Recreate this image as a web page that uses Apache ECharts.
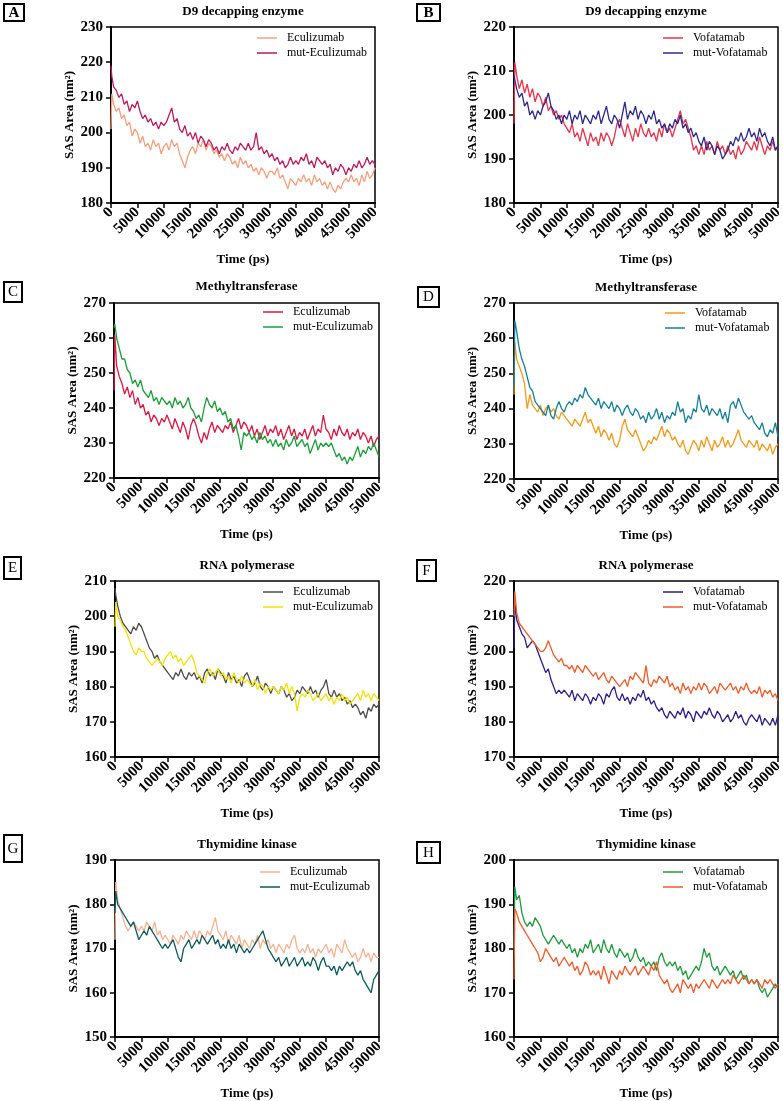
<!DOCTYPE html>
<html>
<head>
<meta charset="utf-8">
<script src="https://cdn.jsdelivr.net/npm/echarts@6/dist/echarts.min.js"></script>
<style>
html,body{margin:0;padding:0;background:#fff;}
#chart{width:783px;height:1101px;}
</style>
</head>
<body>
<div id="chart"></div>
<script>
// ---------------- DATA ----------------
const timePs = [0,150,500,1000,1500,2000,2500,3000,3500,4000,4500,5000,5500,6000,6500,7000,7500,8000,8500,9000,9500,10000,10500,11000,11500,12000,12500,13000,13500,14000,14500,15000,15500,16000,16500,17000,17500,18000,18500,19000,19500,20000,20500,21000,21500,22000,22500,23000,23500,24000,24500,25000,25500,26000,26500,27000,27500,28000,28500,29000,29500,30000,30500,31000,31500,32000,32500,33000,33500,34000,34500,35000,35500,36000,36500,37000,37500,38000,38500,39000,39500,40000,40500,41000,41500,42000,42500,43000,43500,44000,44500,45000,45500,46000,46500,47000,47500,48000,48500,49000,49500,50000];
const xTicks = [0,5000,10000,15000,20000,25000,30000,35000,40000,45000,50000];

const panelLetters = ['A','B','C','D','E','F','G','H'];
const panelTitles = ['D9 decapping enzyme','D9 decapping enzyme','Methyltransferase','Methyltransferase','RNA polymerase','RNA polymerase','Thymidine kinase','Thymidine kinase'];
const seriesNames = [['Eculizumab','mut-Eculizumab'],['Vofatamab','mut-Vofatamab'],['Eculizumab','mut-Eculizumab'],['Vofatamab','mut-Vofatamab'],['Eculizumab','mut-Eculizumab'],['Vofatamab','mut-Vofatamab'],['Eculizumab','mut-Eculizumab'],['Vofatamab','mut-Vofatamab']];
const yMin = [180,180,220,220,160,170,150,160];
const yMax = [230,220,270,270,210,220,190,200];

const A_ecu = [201,211, 208,206,207,204,205,202,203,199,201,200, 197,199,196,197,195,198,196,197,194,196, 197,195,198,196,197,194,192,190,193,195, 196,194,197,196,198,195,197,196,194,195, 193,194,192,194,193,191,192,190,193,191, 192,190,191,189,190,188,190,189,187,189, 189,188,190,187,188,186,184,187,186,185, 187,186,188,186,187,185,188,186,187,185, 186,184,186,184,183,185,184,186,187,186, 188,186,187,185,188,186,189,187,188,190];
const A_mut = [219,216, 213,212,210,211,208,209,206,208,207,209, 206,204,205,203,204,202,203,201,203,202, 203,205,207,203,204,201,200,202,199,200, 198,200,197,199,198,196,198,197,195,196, 194,196,195,197,195,194,196,195,197,196, 195,197,195,196,200,195,196,194,195,193, 194,192,193,191,192,190,191,193,191,192, 191,193,192,194,191,192,190,193,192,191, 192,190,191,188,190,189,191,190,188,190, 189,191,190,192,190,191,193,191,192,191];
const B_vof = [198,212, 209,206,208,205,207,204,206,203,205,204, 202,204,201,202,200,201,199,200,198,197, 196,198,195,196,194,197,195,193,196,194, 195,193,196,194,196,195,193,195,198,199, 197,195,198,196,194,197,195,198,196,195, 197,195,196,194,197,195,198,196,197,195, 197,199,201,198,199,197,195,192,193,191, 193,191,194,192,193,191,194,192,193,191, 193,191,192,190,193,191,192,194,193,192, 194,192,195,193,191,193,192,194,192,193];
const B_mut = [209,208, 206,204,205,202,203,200,201,199,201,200, 202,203,205,202,201,199,200,198,200,199, 201,198,200,199,201,198,200,199,198,200, 199,201,198,200,202,199,198,200,199,197, 200,203,199,201,200,202,199,201,200,198, 200,199,201,198,199,197,198,196,198,197, 199,198,200,197,198,196,197,195,196,194, 193,195,192,194,193,191,193,192,190,191, 192,194,193,195,194,196,194,195,197,195, 196,194,197,195,196,194,193,195,192,193];
const C_ecu = [245,261, 252,249,247,244,246,243,245,241,243,240, 241,238,239,236,238,237,235,237,236,238, 236,234,237,235,233,236,234,231,235,237, 235,232,230,233,231,234,236,233,235,234, 233,235,234,236,233,235,237,234,236,235, 233,235,232,234,231,233,235,232,234,233, 235,232,234,231,233,235,232,234,231,233, 232,234,231,233,235,232,234,233,238,234, 233,231,234,232,235,233,232,234,231,233, 232,234,231,233,232,230,232,229,231,232];
const C_mut = [263,264, 260,257,254,254,251,250,247,248,246,248, 245,244,243,245,242,243,241,243,242,241, 242,240,243,241,242,240,241,243,240,239, 237,238,236,240,243,241,240,242,239,240, 238,239,236,237,234,235,232,228,233,232, 233,231,232,230,233,231,232,230,231,229, 231,229,230,228,231,229,230,232,229,230, 231,229,230,227,229,231,228,230,229,230, 229,230,228,226,227,225,226,224,226,225, 227,229,226,228,227,229,228,230,228,226];
const D_vof = [244,259, 254,252,250,247,240,244,241,240,239,241, 238,240,241,239,240,238,237,239,238,237, 236,235,237,236,235,237,239,236,237,235, 233,235,232,234,233,231,233,230,229,231, 235,237,234,233,232,234,232,230,228,229, 231,230,232,231,233,235,232,234,233,231, 232,230,229,231,228,227,229,231,230,228, 231,229,232,230,228,231,229,230,232,229, 231,229,230,232,234,231,230,229,231,230, 229,231,228,230,229,228,230,227,229,230];
const D_mut = [246,265, 262,257,254,252,249,246,245,242,241,240, 239,238,241,238,237,240,242,240,239,241, 242,241,243,242,244,243,246,244,243,242, 241,243,240,242,241,240,242,239,241,240, 238,240,241,239,238,240,239,237,238,236, 239,237,238,240,237,239,236,238,237,239, 238,242,239,240,236,238,237,240,239,244, 240,239,241,238,240,239,238,240,237,239, 236,241,242,240,243,241,239,238,237,238, 236,235,234,236,233,232,234,233,236,232];
const E_ecu = [208,206, 203,200,198,197,196,195,197,196,198,197, 195,193,191,190,188,189,187,186,185,184, 183,182,184,183,185,183,182,184,183,184, 182,183,181,184,185,183,184,182,185,184, 183,181,184,182,183,181,182,180,183,184, 182,180,181,183,180,179,181,180,178,180, 179,178,180,179,177,178,176,177,179,178, 180,179,178,180,178,179,177,179,180,182, 178,177,179,177,178,176,177,175,176,174, 175,174,172,173,171,174,173,175,174,175];
const E_mut = [197,204, 200,199,197,196,194,192,190,189,191,190, 190,188,187,186,187,188,187,186,188,189, 190,188,189,187,188,186,187,188,189,187, 184,183,182,181,184,185,183,184,185,183, 184,182,183,181,184,182,181,183,181,182, 181,180,182,179,181,180,178,180,179,180, 179,178,180,179,181,178,180,178,173,177, 178,177,179,178,176,177,178,176,177,178, 176,177,175,177,176,178,176,177,175,176, 177,178,176,179,177,178,176,178,177,176];
const F_vof = [201,214, 209,207,205,204,201,202,203,202,200,198, 196,194,195,192,190,188,189,188,189,188, 187,189,186,188,187,186,188,187,185,187, 186,188,187,185,188,187,189,190,187,186, 188,186,187,185,187,186,188,187,189,186, 187,185,186,184,183,184,182,181,183,182, 181,183,182,184,181,183,182,180,183,182, 181,183,182,184,182,181,183,182,180,181, 182,180,181,183,181,182,180,179,181,182, 181,180,182,179,181,180,179,181,179,182];
const F_mut = [210,217, 211,208,207,206,205,204,203,202,201,200, 200,201,203,201,199,198,197,198,196,196, 195,196,194,196,195,194,196,195,194,193, 194,192,193,194,192,191,193,192,191,190, 191,192,190,193,192,194,193,192,191,196, 191,190,192,191,193,192,191,193,190,191, 189,190,188,191,189,190,188,190,189,191, 189,191,190,188,189,190,188,191,190,189, 190,191,189,190,188,190,189,191,189,188, 189,188,190,187,189,188,189,187,188,186];
const G_ecu = [172,185, 181,179,177,175,174,175,176,175,174,175, 174,176,175,174,176,173,174,172,173,172, 171,173,172,171,173,172,174,173,172,174, 172,174,173,172,174,173,175,177,174,173, 172,174,171,173,172,171,173,170,172,171, 170,172,171,173,170,172,171,172,170,171, 169,171,170,169,171,170,172,173,170,169, 170,169,171,169,170,168,170,169,170,171, 169,170,168,171,170,169,172,170,169,168, 169,167,168,170,168,169,167,169,168,168];
const G_mut = [178,183, 180,179,178,177,176,175,176,174,172,173, 174,173,175,174,173,172,171,170,171,170, 171,172,170,168,167,170,171,172,170,171, 172,171,173,172,171,172,173,171,172,170, 171,170,172,170,171,169,171,170,169,170, 169,170,171,172,173,174,172,170,169,168, 167,168,166,167,168,166,167,168,166,167, 168,166,167,166,168,167,165,167,168,166, 166,165,166,164,166,165,166,167,166,167, 165,164,165,163,162,161,160,163,164,165];
const H_vof = [180,194, 191,192,188,186,185,186,185,187,186,185, 183,182,181,182,183,182,181,182,181,180, 181,179,180,178,180,179,181,180,182,179, 180,181,179,182,180,179,181,179,178,180, 179,178,179,177,178,180,178,177,178,176, 177,176,177,175,178,179,177,176,177,176, 177,175,176,174,175,173,174,175,176,175, 177,180,178,179,176,175,176,174,175,176, 175,174,175,173,174,175,173,174,172,173, 172,173,171,170,171,169,170,171,172,171];
const H_mut = [173,189, 188,186,185,184,183,182,181,180,179,177, 178,180,179,178,177,178,176,177,178,177, 176,177,175,176,174,175,177,176,174,175, 174,175,173,176,174,172,175,174,173,175, 174,176,175,174,175,176,174,175,176,175, 174,176,175,177,174,173,172,173,171,170, 171,172,170,173,172,171,172,170,172,171, 172,173,172,171,173,172,171,172,173,172, 173,172,174,173,172,173,174,173,172,173, 172,173,172,171,173,172,173,172,171,172];

const panelValues = [[A_ecu,A_mut],[B_vof,B_mut],[C_ecu,C_mut],[D_vof,D_mut],[E_ecu,E_mut],[F_vof,F_mut],[G_ecu,G_mut],[H_vof,H_mut]];

// ---------------- STYLE / LAYOUT ----------------
const colors = [['#F4A07C','#BC1A5E'],['#E8334A','#2E2A8C'],['#D81B46','#1E9E3A'],['#F39A1A','#157F98'],['#4D4D4D','#F2E205'],['#2F1E8A','#F05A28'],['#F6B293','#0E5B5C'],['#1F9B3F','#EF5B2C']];
const grids = [
  {left:111, top:27, width:264, height:176},
  {left:514, top:27, width:264, height:176},
  {left:114, top:303, width:265, height:175},
  {left:514, top:303, width:264, height:176},
  {left:115, top:581, width:264, height:176},
  {left:514, top:581, width:264, height:176},
  {left:115, top:860, width:264, height:177},
  {left:514, top:860, width:264, height:177}
];
const legendPos = [[257,31],[663,31],[263,305],[665,306],[263,585],[663,585],[260,865],[663,865]];
const titleY = [12,12,287,288,566,566,845,845];
const letterBoxes = [[4,4,20,17,true],[417,4,23,17,true],[4,282,18,20,false],[418,287,21,20,false],[4,557,17,22,false],[417,560,19,21,false],[4,835,18,27,false],[417,842,23,21,false]];

const FONT = '"Liberation Serif","Times New Roman",serif';

const option = {
  animation:false,
  backgroundColor:'#fff',
  grid:[], xAxis:[], yAxis:[], series:[], legend:[], graphic:[]
};

for (let p=0;p<8;p++){
  const g = grids[p];
  option.grid.push(Object.assign({show:true, borderColor:'#000', borderWidth:1.5, backgroundColor:'rgba(0,0,0,0)', containLabel:false, outerBoundsMode:'none'}, g));
  option.xAxis.push({
    type:'value', gridIndex:p, min:0, max:50000, interval:5000,
    name:'Time (ps)', nameLocation:'middle', nameGap:50,
    nameTextStyle:{fontFamily:FONT, fontWeight:'bold', fontSize:13, color:'#000'},
    axisLine:{show:true, onZero:false, lineStyle:{color:'#000', width:2}},
    axisTick:{show:true, inside:false, length:5, lineStyle:{color:'#000', width:1.5}},
    axisLabel:{rotate:45, margin:7, interval:0, fontFamily:FONT, fontWeight:'bold', fontSize:15, color:'#000', showMinLabel:true, showMaxLabel:true, hideOverlap:false,
      formatter: v => String(v)},
    splitLine:{show:false}
  });
  option.yAxis.push({
    type:'value', gridIndex:p, min:yMin[p], max:yMax[p], interval:10,
    name:'SAS Area (nm²)', nameLocation:'middle', nameRotate:90, nameGap:34,
    nameTextStyle:{fontFamily:FONT, fontWeight:'bold', fontSize:13, color:'#000'},
    axisLine:{show:true, onZero:false, lineStyle:{color:'#000', width:2}},
    axisTick:{show:true, inside:false, length:5, lineStyle:{color:'#000', width:1.5}},
    axisLabel:{margin:8, fontFamily:FONT, fontWeight:'bold', fontSize:15, color:'#000', showMinLabel:true, showMaxLabel:true,
      formatter: v => String(v)},
    splitLine:{show:false}
  });
  const names = [];
  for (let s=0;s<2;s++){
    const nm = panelLetters[p] + '|' + seriesNames[p][s];
    names.push(nm);
    const vals = panelValues[p][s];
    option.series.push({
      type:'line', name:nm, xAxisIndex:p, yAxisIndex:p,
      data: timePs.map((t,i)=>[t, vals[i]]),
      showSymbol:false, symbol:'none', smooth:false,
      lineStyle:{width:1.3, color:colors[p][s]}, itemStyle:{color:colors[p][s]},
      z: 2+s
    });
  }
  option.legend.push({
    data:names, orient:'vertical', left:legendPos[p][0], top:legendPos[p][1], padding:0,
    icon:'rect', itemWidth:20, itemHeight:1.5, itemGap:1,
    formatter: n => n.split('|')[1],
    textStyle:{fontFamily:FONT, fontSize:12, color:'#000', lineHeight:14, padding:[0,0,0,5]},
    selectedMode:false
  });
  option.graphic.push({
    type:'text', x: g.left + g.width/2, y: titleY[p],
    style:{text:panelTitles[p], fontFamily:FONT, fontWeight:'bold', fontSize:13, fill:'#000', align:'center', verticalAlign:'middle'}
  });
  const lb = letterBoxes[p];
  option.graphic.push({
    type:'rect', shape:{x:lb[0], y:lb[1], width:lb[2], height:lb[3]},
    style:{fill:'#fff', stroke:'#000', lineWidth:2}
  });
  option.graphic.push({
    type:'text', x: lb[0]+lb[2]/2, y: lb[1]+lb[3]/2+0.5,
    style:{text:panelLetters[p], fontFamily:FONT, fontWeight: lb[4]?'bold':'normal', fontSize:15, fill:'#000', align:'center', verticalAlign:'middle'}
  });
}

const chart = echarts.init(document.getElementById('chart'), null, {renderer:'canvas'});
chart.setOption(option);
</script>
</body>
</html>
